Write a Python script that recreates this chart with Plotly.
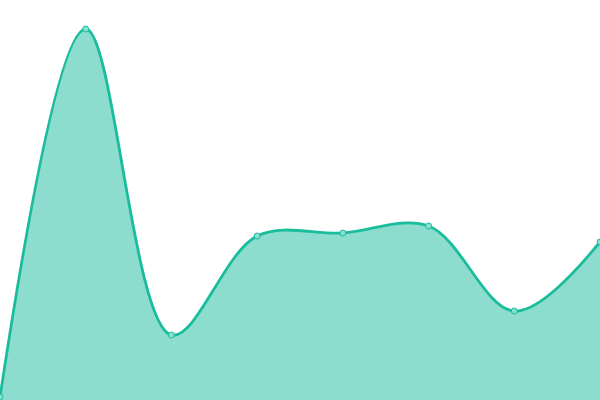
import plotly.graph_objects as go

days = [0, 1, 2, 3, 4, 5, 6, 7]
values = [0.75, 92.75, 16.25, 41, 41.75, 43.5, 22.25, 39.5]

line_color = "#1abc9c"
fill_color = "rgba(26,188,156,0.5)"

fig = go.Figure()
fig.add_trace(go.Scatter(
    x=days, y=values,
    mode="lines+markers",
    line=dict(color=line_color, width=2.8, shape="spline", smoothing=1),
    marker=dict(size=6, color="#88e0cf", line=dict(color=line_color, width=1)),
    fill="tozeroy",
    fillcolor=fill_color,
    hoverinfo="skip",
))

fig.update_layout(
    width=600, height=400,
    margin=dict(l=0, r=0, t=0, b=0),
    paper_bgcolor="white", plot_bgcolor="white",
    showlegend=False,
    xaxis=dict(range=[0, 7], visible=False),
    yaxis=dict(range=[0, 100], visible=False),
)

# drop the browser's default body margin so the 600x400 figure fills the window
fig.write_html("out.html", config={"displayModeBar": False},
               post_script="document.body.style.margin='0';document.body.style.overflow='hidden';")
